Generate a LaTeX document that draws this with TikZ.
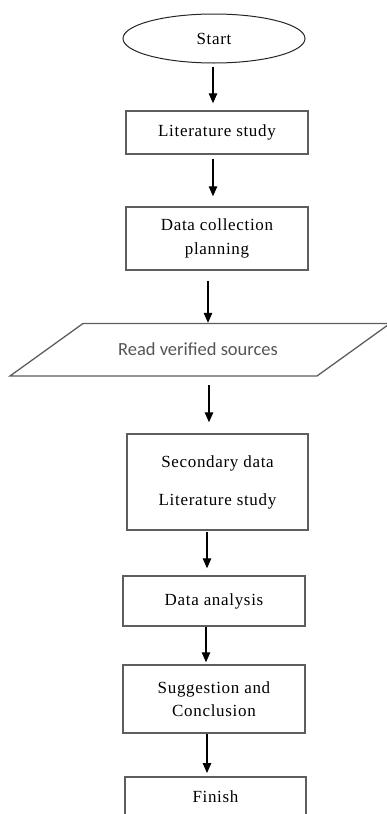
\documentclass[tikz,border=0pt]{standalone}
\usepackage{fontspec}
\setmainfont{Liberation Serif}[LetterSpace=4]
\newfontfamily\calfont{Carlito}
\usetikzlibrary{shapes.geometric,arrows.meta}
\definecolor{boxline}{HTML}{5E5E5E}
\definecolor{graytext}{HTML}{555555}
\tikzset{
  stepbox/.style={draw=boxline, line width=1.5pt, rectangle, inner sep=0pt, align=center,
    font=\fontsize{17}{24}\selectfont},
  arr/.style={line width=1.3pt, -{Triangle[length=10pt,width=8.5pt]}},
}
\begin{document}
\begin{tikzpicture}[x=1pt,y=-1pt]
\useasboundingbox (0,0) rectangle (386,814);
\node[ellipse, draw=black!85, line width=1pt, minimum width=182pt, minimum height=49pt, inner sep=0pt,
  font=\fontsize{17}{24}\selectfont] (start) at (214,38.5) {Start};
\node[stepbox, minimum width=182pt, minimum height=43pt] (lit) at (217,132.5) {Literature study};
\node[stepbox, minimum width=182pt, minimum height=63pt] (dcp) at (217,238.5) {Data collection\\planning};
\node[minimum width=230pt, minimum height=53pt, inner sep=0pt, text=graytext,
  font=\calfont\fontsize{18.5}{22}\selectfont] (read) at (198,349.5) {Read verified sources};
\draw[boxline, line width=1.3pt] (83,323.5) -- (390,323.5) -- (317,376) -- (10,376) -- cycle;
\node[stepbox, minimum width=181pt, minimum height=96pt,
  font=\fontsize{17}{38}\selectfont] (sec) at (217.5,482) {Secondary data\\Literature study};
\node[stepbox, minimum width=182pt, minimum height=50pt] (da) at (214,601) {Data analysis};
\node[stepbox, minimum width=182pt, minimum height=68pt,
  font=\fontsize{17}{23}\selectfont] (sug) at (214,699) {Suggestion and\\Conclusion};
\node[stepbox, minimum width=181pt, anchor=north, text height=25.5pt, text depth=40pt] (fin) at (215.5,776) {Finish};
\draw[arr, shorten <=3pt, shorten >=7pt] ([xshift=-1pt]start.south) -- ([xshift=-1pt]start.south |- lit.north);
\draw[arr, shorten <=4pt, shorten >=10pt] ([xshift=-4pt]lit.south) -- ([xshift=-4pt]dcp.north);
\draw[arr, shorten <=10pt, shorten >=0pt] ([xshift=-9pt]dcp.south) -- ([xshift=-9pt]dcp.south |- read.north);
\draw[arr, shorten <=9pt, shorten >=11pt] ([xshift=11pt]read.south) -- ([xshift=11pt]read.south |- sec.north);
\draw[arr, shorten <=1pt, shorten >=7pt] ([xshift=-10.5pt]sec.south) -- ([xshift=-7pt]da.north);
\draw[arr, shorten <=0pt, shorten >=2pt] ([xshift=-8pt]da.south) -- ([xshift=-8pt]sug.north);
\draw[arr, shorten <=0pt, shorten >=3pt] ([xshift=-7pt]sug.south) -- ([xshift=-8.5pt]fin.north);
\end{tikzpicture}
\end{document}
